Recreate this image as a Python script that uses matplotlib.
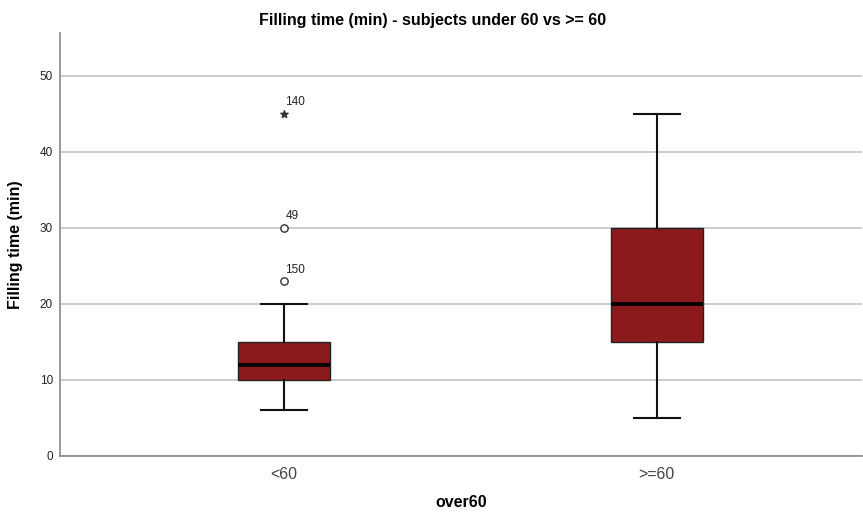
import matplotlib
matplotlib.use("Agg")
import matplotlib.pyplot as plt

plt.rcParams['font.family'] = ['Liberation Sans', 'DejaVu Sans']

categories = ["<60", ">=60"]
whislo = [6, 5]
q1 = [10, 15]
med = [12, 20]
q3 = [15, 30]
whishi = [20, 45]

# outliers for group <60: (value, case id)
out_vals = [23, 30]
out_ids = ["150", "49"]
ext_vals = [45]
ext_ids = ["140"]

fig = plt.figure(figsize=(8.63, 5.14), dpi=100)
ax = fig.add_axes([60/863, 1-456/514, 802/863, (456-33)/514])

stats = []
for i, c in enumerate(categories):
    stats.append(dict(label=c, whislo=whislo[i], q1=q1[i], med=med[i], q3=q3[i], whishi=whishi[i], fliers=[]))

ax.set_axisbelow(True)
ax.yaxis.grid(True, color='#c8c8c8', linewidth=1.3)
positions = list(range(len(categories)))
ax.bxp(stats, positions=positions, widths=0.245, patch_artist=True, showfliers=False,
       boxprops=dict(facecolor='#8c1a1c', edgecolor='#222222', linewidth=1.0),
       medianprops=dict(color='black', linewidth=2.8),
       whiskerprops=dict(color='#111111', linewidth=1.5),
       capprops=dict(color='#111111', linewidth=1.5),
       capwidths=0.122)

ax.scatter([0]*len(out_vals), out_vals, s=28, facecolors='white', edgecolors='#333333', linewidths=1.0, zorder=5)
ax.scatter([0]*len(ext_vals), ext_vals, s=30, marker='*', color='#333333', zorder=5)
for v, t in zip(out_vals + ext_vals, out_ids + ext_ids):
    ax.annotate(t, (0, v), xytext=(1, 6), textcoords='offset points', fontsize=8.5, color='#222222')

ax.set_xlim(-0.6, 1.55)
ax.set_ylim(0, 55.6)
ax.set_yticks([0, 10, 20, 30, 40, 50])
ax.set_xticks(positions)
ax.set_xticklabels(categories, fontsize=11.5, color='#444444')
ax.tick_params(axis='y', labelsize=8.5, length=0, pad=5, labelcolor='#222222')
ax.tick_params(axis='x', length=0, pad=8)
for s in ['top', 'right']:
    ax.spines[s].set_visible(False)
for s in ['left', 'bottom']:
    ax.spines[s].set_color('#888888')
    ax.spines[s].set_linewidth(1.2)

ax.set_title("Filling time (min) - subjects under 60 vs >= 60", fontsize=11.5, fontweight='bold',
             pad=6, x=(433-60)/802)
ax.set_ylabel("Filling time (min)", fontsize=11.5, fontweight='bold', labelpad=12)
ax.set_xlabel("over60", fontsize=11.5, fontweight='bold', labelpad=9)

fig.savefig("out.png", dpi=100)
